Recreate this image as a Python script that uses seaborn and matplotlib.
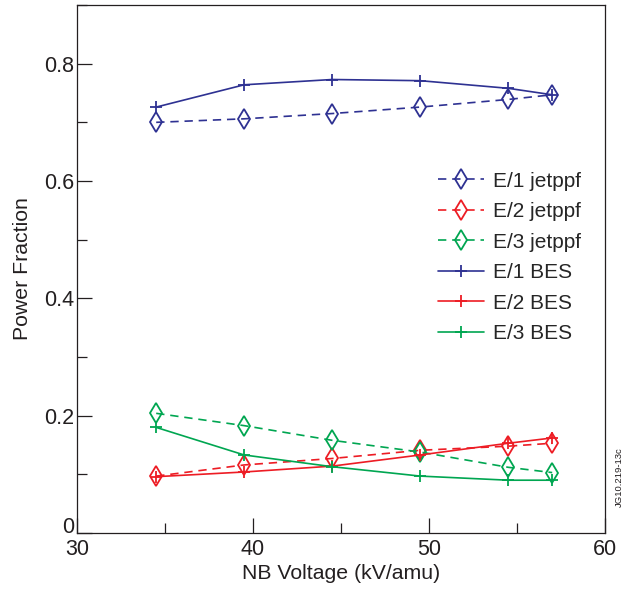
import numpy as np
import pandas as pd
import matplotlib
matplotlib.use("Agg")
import matplotlib.pyplot as plt
import matplotlib.transforms as mtransforms
import seaborn as sns
from matplotlib.ticker import MultipleLocator

voltage = [34.5, 39.5, 44.5, 49.5, 54.5, 57.0]

e1_jetppf = [0.700, 0.706, 0.715, 0.726, 0.739, 0.747]
e2_jetppf = [0.097, 0.116, 0.127, 0.141, 0.148, 0.153]
e3_jetppf = [0.204, 0.183, 0.158, 0.138, 0.112, 0.103]
e1_bes = [0.726, 0.764, 0.773, 0.771, 0.758, 0.747]
e2_bes = [0.096, 0.104, 0.114, 0.133, 0.153, 0.162]
e3_bes = [0.180, 0.133, 0.113, 0.097, 0.090, 0.090]

series = [
    ("E/1 jetppf", e1_jetppf),
    ("E/2 jetppf", e2_jetppf),
    ("E/3 jetppf", e3_jetppf),
    ("E/1 BES", e1_bes),
    ("E/2 BES", e2_bes),
    ("E/3 BES", e3_bes),
]

sns.set_style("ticks")
plt.rcParams['font.family'] = ['Liberation Sans', 'DejaVu Sans']

blue = "#2e3192"
red = "#ed1c24"
green = "#00a651"
ink = "#231f20"
colors = [blue, red, green, blue, red, green]

rows = []
for name, vals in series:
    for v, f in zip(voltage, vals):
        rows.append({"series": name, "voltage": v, "fraction": f})
df = pd.DataFrame(rows)

fig = plt.figure(figsize=(6.29, 5.93), dpi=100)
ax = fig.add_axes([77 / 629, 1 - 533 / 593, 528 / 629, 528 / 593])

for (name, vals), c in zip(series, colors):
    sub = df[df.series == name]
    if "jetppf" in name:
        sns.lineplot(data=sub, x="voltage", y="fraction", ax=ax, color=c,
                     label=name, marker="d", markersize=10,
                     markerfacecolor="none", markeredgecolor=c,
                     markeredgewidth=1.3, linewidth=1.2,
                     dashes=False, linestyle=(0, (5, 3.5)))
    else:
        sns.lineplot(data=sub, x="voltage", y="fraction", ax=ax, color=c,
                     label=name, marker="+", markersize=9,
                     markeredgecolor=c, markeredgewidth=1.3, linewidth=1.2)

ax.set_xlim(30, 60)
ax.set_ylim(0, 0.9)
ax.xaxis.set_major_locator(MultipleLocator(10))
ax.xaxis.set_minor_locator(MultipleLocator(5))
ax.yaxis.set_minor_locator(MultipleLocator(0.1))
ax.set_yticks([0, 0.2, 0.4, 0.6, 0.8])
ax.set_yticklabels(["0", "0.2", "0.4", "0.6", "0.8"])
ax.tick_params(which="both", direction="in", top=False, right=False,
               labelsize=15.5, colors=ink)
ax.tick_params(axis="y", pad=2)
ax.tick_params(axis="x", pad=4)
ax.tick_params(which="major", length=11, width=0.9)
ax.tick_params(which="minor", length=7, width=0.9)
for s in ax.spines.values():
    s.set_linewidth(0.9)
    s.set_color(ink)

# lift the "0" label so it clears the "30" below it
zero_lab = ax.get_yticklabels()[0]
zero_lab.set_transform(zero_lab.get_transform() +
                       mtransforms.ScaledTranslation(0, 8 / 100, fig.dpi_scale_trans))

ax.set_xlabel("NB Voltage (kV/amu)", fontsize=15.3, color=ink, labelpad=3)
ax.set_ylabel("Power Fraction", fontsize=15.3, color=ink, labelpad=9)

leg = ax.legend(loc="upper left", bbox_to_anchor=(0.668, 0.70), frameon=False,
                fontsize=15, handlelength=2.2, handletextpad=0.45,
                labelspacing=0.55, borderaxespad=0)

fig.text(619 / 629, 1 - 507 / 593, "JG10.219-13c", rotation=90,
         fontsize=6.8, ha="center", va="bottom", color=ink)

fig.savefig("out.png", dpi=100)
